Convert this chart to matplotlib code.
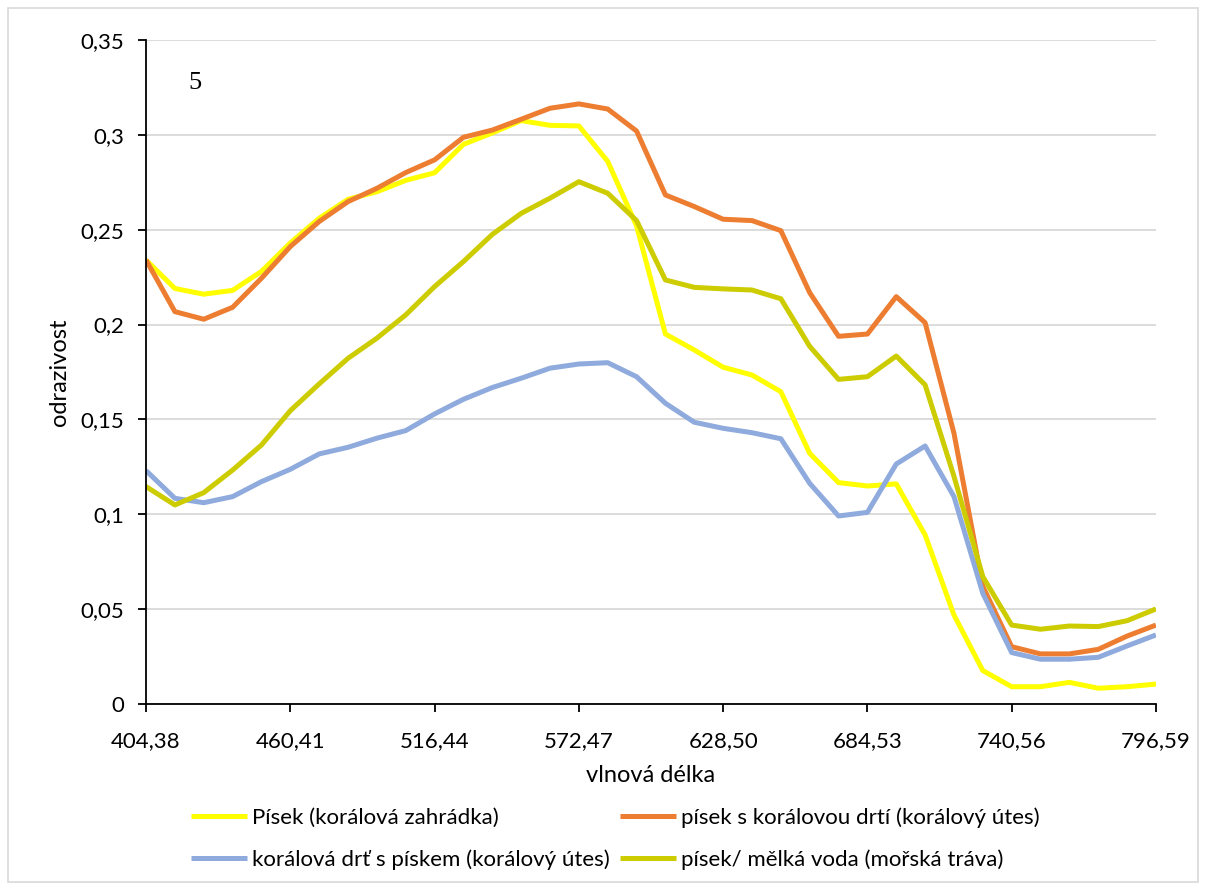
import matplotlib
matplotlib.use("Agg")
import matplotlib.pyplot as plt
from matplotlib.patches import Rectangle

# reflectance spectra, 36 bands (category axis, labels every 5th band)
tick_labels = ["404,38", "460,41", "516,44", "572,47", "628,50", "684,53", "740,56", "796,59"]

pisek_zahradka = [
    0.234, 0.219, 0.216, 0.218, 0.228, 0.243, 0.256, 0.266, 0.270, 0.276,
    0.280, 0.295, 0.301, 0.3075, 0.305, 0.3047, 0.286, 0.252, 0.195, 0.1866,
    0.1775, 0.1734, 0.1646, 0.1321, 0.1167, 0.1149, 0.116, 0.0891, 0.0469, 0.0176,
    0.0091, 0.0091, 0.0114, 0.0083, 0.0091, 0.0105,
]
pisek_drt_utes = [
    0.234, 0.2068, 0.2028, 0.2091, 0.2244, 0.2411, 0.2543, 0.2648, 0.2718, 0.2801,
    0.2868, 0.2987, 0.3025, 0.3082, 0.314, 0.3163, 0.3136, 0.302, 0.2683, 0.2622,
    0.2555, 0.2548, 0.2495, 0.2168, 0.1938, 0.195, 0.2147, 0.201, 0.1427, 0.062,
    0.0302, 0.0264, 0.0264, 0.0288, 0.0358, 0.0416,
]
drt_pisek_utes = [
    0.123, 0.1084, 0.1061, 0.1093, 0.1172, 0.1237, 0.1318, 0.1353, 0.1401, 0.1441,
    0.1529, 0.1606, 0.1668, 0.1717, 0.177, 0.1792, 0.1799, 0.1725, 0.1585, 0.1485,
    0.1453, 0.143, 0.1398, 0.1163, 0.0991, 0.101, 0.1265, 0.136, 0.1093, 0.0583,
    0.0271, 0.0236, 0.0236, 0.0246, 0.0306, 0.0364,
]
pisek_melka_voda = [
    0.1146, 0.1049, 0.1114, 0.1233, 0.1365, 0.1546, 0.1687, 0.1822, 0.1928, 0.2051,
    0.22, 0.2332, 0.2475, 0.2586, 0.2666, 0.2753, 0.2692, 0.2548, 0.2235, 0.2196,
    0.2188, 0.2182, 0.2136, 0.1885, 0.1711, 0.1725, 0.1834, 0.1682, 0.12, 0.0671,
    0.0416, 0.0394, 0.0411, 0.0408, 0.0439, 0.0501,
]

series = [
    ("Písek (korálová zahrádka)", pisek_zahradka, "#FFFF00"),
    ("písek s korálovou drtí (korálový útes)", pisek_drt_utes, "#ED7D31"),
    ("korálová drť s pískem (korálový útes)", drt_pisek_utes, "#8FAADC"),
    ("písek/ mělká voda (mořská tráva)", pisek_melka_voda, "#CCCC00"),
]

plt.rcParams["font.family"] = ["Lato", "DejaVu Sans"]

fig = plt.figure(figsize=(12.06, 8.90), dpi=100)
ax = fig.add_axes([0.1211, 0.2090, 0.8374, 0.7461])

# light chart-area border
fig.patches.append(Rectangle((0.007, 0.009), 0.986, 0.982, transform=fig.transFigure,
                             fill=False, edgecolor="#D9D9D9", linewidth=1.2))

lines = {}
for label, values, color in series:
    (ln,) = ax.plot(range(len(values)), values, color=color, linewidth=3.6,
                    solid_joinstyle="round", solid_capstyle="butt", label=label)
    lines[label] = ln

ax.set_xlim(0, len(pisek_zahradka) - 1)
ax.set_ylim(0, 0.35)
ax.set_xticks(range(0, len(pisek_zahradka), 5))
ax.set_xticklabels(tick_labels)
ax.set_yticks([0, 0.05, 0.1, 0.15, 0.2, 0.25, 0.3, 0.35])
ax.set_yticklabels(["0", "0,05", "0,1", "0,15", "0,2", "0,25", "0,3", "0,35"])
ax.tick_params(axis="both", labelsize=16, length=5.5, width=1.3, direction="out")
ax.tick_params(axis="y", pad=10.5)
ax.tick_params(axis="x", pad=14)

ax.grid(axis="y", color="#D9D9D9", linewidth=1.3)
ax.set_axisbelow(True)
for s in ("top", "right"):
    ax.spines[s].set_visible(False)
for s in ("left", "bottom"):
    ax.spines[s].set_linewidth(1.3)
    ax.spines[s].set_zorder(5)

ax.set_xlabel("vlnová délka", fontsize=17, labelpad=10)
ax.set_ylabel("odrazivost", fontsize=17, labelpad=7)

ax.text(0.042, 0.935, "5", transform=ax.transAxes, fontsize=19,
        family="Liberation Serif", va="center", ha="left")

order = [series[0][0], series[2][0], series[1][0], series[3][0]]
fig.legend([lines[k] for k in order], order, loc="center",
           bbox_to_anchor=(0.510, 0.058), ncol=2, frameon=False, fontsize=16,
           handlelength=2.55, handletextpad=0.2, columnspacing=0.45,
           labelspacing=0.95)

plt.savefig("out.png", dpi=100)
plt.close()
